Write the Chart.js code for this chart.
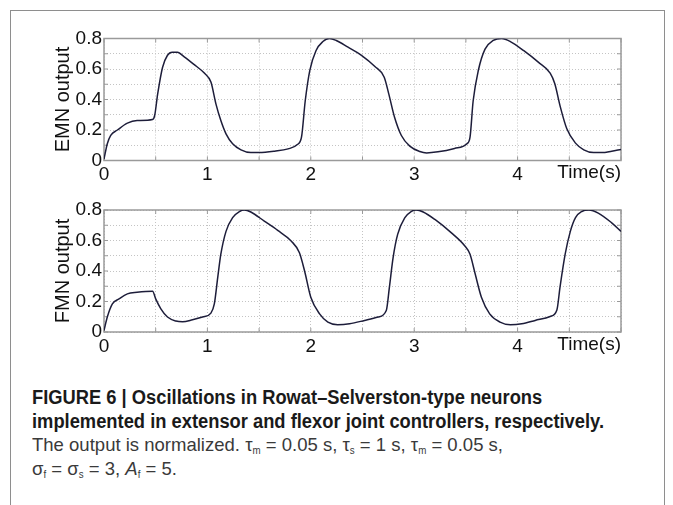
<!DOCTYPE html>
<html>
<head>
<meta charset="utf-8">
<script src="https://cdn.jsdelivr.net/npm/chart.js@4/dist/chart.umd.min.js"></script>
<style>
  body { margin: 0; background: #fff; width: 673px; height: 505px; overflow: hidden; position: relative; }
  #frame { position: absolute; left: 10px; top: 10px; width: 653px; height: 520px; border: 1.5px solid #8e8e8e; }
  canvas { position: absolute; left: 0; }
  #caption { position: absolute; left: 32px; top: 386px; white-space: nowrap;
             font-family: "Liberation Sans", Arial, sans-serif; }
  #caption div { height: 23.7px; line-height: 23.7px; }
  #caption span { display: inline-block; transform-origin: 0 50%; }
  #caption .head { font-weight: bold; font-size: 20px; color: #1a1a1a; }
  #caption .body { font-size: 19px; color: #3a3a3a; }
  #caption sub { font-size: 10px; vertical-align: -3px; line-height: 0; }
</style>
</head>
<body>
<div id="frame"></div>
<canvas id="emn" width="673" height="190" style="top:0"></canvas>
<canvas id="fmn" width="673" height="180" style="top:190px"></canvas>
<div id="caption">
  <div><span class="head">FIGURE 6 | Oscillations in Rowat–Selverston-type neurons</span></div>
  <div><span class="head" data-w="572">implemented in extensor and flexor joint controllers, respectively.</span></div>
  <div><span class="body" data-w="471">The output is normalized. τ<sub>m</sub> = 0.05 s, τ<sub>s</sub> = 1 s, τ<sub>m</sub> = 0.05 s,</span></div>
  <div><span class="body">σ<sub>f</sub> = σ<sub>s</sub> = 3, <i>A</i><sub>f</sub> = 5.</span></div>
</div>
<script>
// time (s) and normalized output
const emnTime = [0, 0.032, 0.065, 0.13, 0.226, 0.32, 0.47, 0.49, 0.52, 0.566, 0.614, 0.66, 0.71, 0.776, 0.87, 0.97,
  1.034, 1.083, 1.13, 1.18, 1.244, 1.325, 1.42, 1.5, 1.65, 1.78, 1.87, 1.91, 1.946, 1.99, 2.05, 2.117, 2.18, 2.246,
  2.36, 2.49, 2.62, 2.71, 2.754, 2.81, 2.876, 2.957, 3.054, 3.12, 3.23, 3.39, 3.51, 3.54, 3.57, 3.62, 3.685, 3.765,
  3.846, 3.93, 4.06, 4.2, 4.315, 4.36, 4.41, 4.476, 4.56, 4.64, 4.735, 4.816, 4.91, 5.0];
const emnValues = [0.01, 0.11, 0.165, 0.2, 0.245, 0.262, 0.269, 0.295, 0.44, 0.61, 0.69, 0.71, 0.71, 0.68, 0.63, 0.573,
  0.514, 0.37, 0.262, 0.175, 0.11, 0.07, 0.052, 0.052, 0.061, 0.076, 0.105, 0.153, 0.39, 0.59, 0.72, 0.78, 0.8, 0.787,
  0.743, 0.69, 0.616, 0.546, 0.437, 0.284, 0.164, 0.094, 0.059, 0.05, 0.057, 0.079, 0.11, 0.153, 0.39, 0.59, 0.73, 0.787,
  0.8, 0.78, 0.72, 0.645, 0.573, 0.503, 0.36, 0.208, 0.114, 0.07, 0.052, 0.052, 0.061, 0.072];

const fmnTime = [0, 0.032, 0.081, 0.145, 0.226, 0.32, 0.47, 0.5, 0.55, 0.614, 0.695, 0.76, 0.856, 0.953, 1.034, 1.067,
  1.1, 1.13, 1.18, 1.244, 1.31, 1.357, 1.42, 1.55, 1.68, 1.81, 1.89, 1.94, 2.0, 2.085, 2.165, 2.26, 2.375, 2.52, 2.65,
  2.73, 2.76, 2.796, 2.84, 2.91, 2.97, 3.02, 3.087, 3.2, 3.36, 3.49, 3.54, 3.59, 3.65, 3.73, 3.83, 3.93, 4.04, 4.17,
  4.315, 4.38, 4.41, 4.46, 4.51, 4.56, 4.62, 4.69, 4.78, 4.91, 5.0];
const fmnValues = [0.01, 0.098, 0.184, 0.217, 0.25, 0.26, 0.267, 0.217, 0.152, 0.098, 0.072, 0.067, 0.08, 0.098, 0.124,
  0.184, 0.358, 0.51, 0.66, 0.75, 0.79, 0.8, 0.787, 0.727, 0.666, 0.597, 0.52, 0.4, 0.228, 0.119, 0.065, 0.048, 0.054,
  0.076, 0.098, 0.141, 0.293, 0.488, 0.64, 0.75, 0.79, 0.8, 0.787, 0.738, 0.65, 0.564, 0.51, 0.38, 0.228, 0.119, 0.065,
  0.048, 0.054, 0.076, 0.102, 0.145, 0.293, 0.51, 0.66, 0.75, 0.79, 0.8, 0.78, 0.716, 0.66];

const xTickLabels = ['0', '1', '2', '3', '4'];
const yTickLabels = ['0', '0.2', '0.4', '0.6', '0.8'];
const xLabel = 'Time(s)';

const axisFont = { family: '"Liberation Sans", Arial, sans-serif', size: 19 };
const lineColor = '#1d1d3a';
const boxColor = '#9a9a9a';
const gridColor = '#c4c4c4';

// squeeze caption lines to the condensed width of the original typeface
// (one factor for the bold lines, one for the plain lines)
function squeeze(cls) {
  const spans = [...document.querySelectorAll('#caption .' + cls)];
  const ref = spans.find(s => s.dataset.w);
  const k = +ref.dataset.w / ref.getBoundingClientRect().width;
  spans.forEach(s => { s.style.transform = 'scaleX(' + k + ')'; });
}
squeeze('head');
squeeze('body');

// matlab-ish box with inward ticks + the "Time(s)" label on the tick row
const boxPlugin = {
  id: 'box',
  beforeDatasetsDraw(chart) {
    const { ctx, chartArea: a, scales } = chart;
    ctx.save();
    ctx.strokeStyle = boxColor;
    ctx.lineWidth = 1.5;
    ctx.strokeRect(a.left, a.top, a.right - a.left, a.bottom - a.top);
    ctx.lineWidth = 1;
    ctx.beginPath();
    scales.x.ticks.forEach(t => {
      const px = scales.x.getPixelForValue(t.value);
      ctx.moveTo(px, a.bottom); ctx.lineTo(px, a.bottom - 4);
      ctx.moveTo(px, a.top); ctx.lineTo(px, a.top + 4);
    });
    scales.y.ticks.forEach(t => {
      const py = scales.y.getPixelForValue(t.value);
      ctx.moveTo(a.left, py); ctx.lineTo(a.left + 4, py);
      ctx.moveTo(a.right, py); ctx.lineTo(a.right - 4, py);
    });
    ctx.stroke();
    ctx.restore();
  },
  afterDraw(chart) {
    const { ctx, chartArea: a } = chart;
    ctx.save();
    ctx.font = axisFont.size + 'px ' + axisFont.family;
    ctx.fillStyle = '#111';
    ctx.textAlign = 'right';
    ctx.textBaseline = 'top';
    ctx.fillText(xLabel, a.right, a.bottom + 3);
    ctx.restore();
  }
};

function makeChart(id, times, values, title, top, bottom, height) {
  return new Chart(document.getElementById(id), {
    type: 'line',
    data: {
      datasets: [{
        data: times.map((t, i) => ({ x: t, y: values[i] })),
        borderColor: lineColor,
        borderWidth: 1.5,
        pointRadius: 0,
        cubicInterpolationMode: 'monotone',
        fill: false
      }]
    },
    options: {
      responsive: false,
      animation: false,
      layout: { padding: { left: 0, right: 52, top: top, bottom: 0 } },
      plugins: { legend: { display: false }, tooltip: { enabled: false } },
      scales: {
        x: {
          type: 'linear', min: 0, max: 5,
          ticks: {
            stepSize: 0.5, padding: 3, color: '#111', font: axisFont, maxRotation: 0, autoSkip: false,
            callback: v => (Number.isInteger(v) && v < 5 ? xTickLabels[v] : '')
          },
          grid: { color: gridColor, drawTicks: false, lineWidth: 1 },
          border: { display: false, dash: [1, 2] },
          afterFit: s => { s.height = height - bottom; }
        },
        y: {
          min: 0, max: 0.8,
          ticks: {
            stepSize: 0.1, padding: 2, color: '#111', font: axisFont, autoSkip: false,
            callback: v => {
              const k = Math.round(v * 10);
              return k % 2 === 0 ? yTickLabels[k / 2] : '';
            }
          },
          grid: { color: gridColor, drawTicks: false, lineWidth: 1 },
          border: { display: false, dash: [1, 2] },
          title: {
            display: true, text: title, color: '#111',
            font: { family: axisFont.family, size: 20 },
            padding: { top: 51, bottom: 0 }
          },
          afterFit: s => { s.width = 104; }
        }
      }
    },
    plugins: [boxPlugin]
  });
}

makeChart('emn', emnTime, emnValues, 'EMN output', 38.5, 160.5, 190);
makeChart('fmn', fmnTime, fmnValues, 'FMN output', 20, 142, 180);
</script>
</body>
</html>
